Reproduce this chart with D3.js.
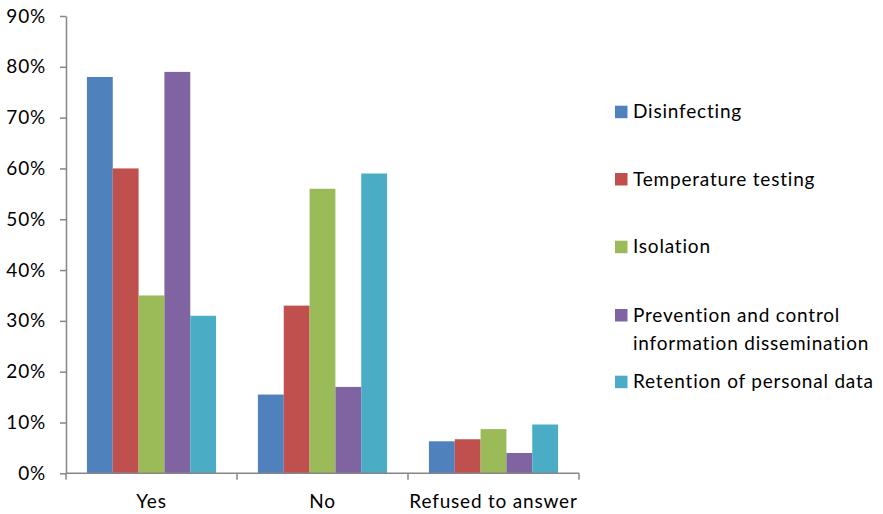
<!DOCTYPE html>
<html>
<head>
<meta charset="utf-8">
<script src="https://cdn.jsdelivr.net/npm/d3@7"></script>
<style>
  html, body { margin: 0; padding: 0; background: #fff; }
  svg { display: block; font-family: Lato, "Open Sans", sans-serif; }
  svg text { letter-spacing: 0.8px; }
</style>
</head>
<body>
<svg id="chart" width="883" height="514"></svg>
<script>
// Response categories along the x axis
const categories = ["Yes", "No", "Refused to answer"];

// Measures asked about (one bar per measure within each category)
const seriesNames = [
  "Disinfecting",
  "Temperature testing",
  "Isolation",
  "Prevention and control information dissemination",
  "Retention of personal data"
];

// Share of respondents (%) per measure, in category order
const disinfecting = [78, 15.5, 6.3];
const temperatureTesting = [60, 33, 6.7];
const isolation = [35, 56, 8.7];
const preventionInfo = [79, 17, 4];
const retentionData = [31, 59, 9.6];

const seriesValues = [disinfecting, temperatureTesting, isolation, preventionInfo, retentionData];

// Legend text, with the long label split over two lines
const legendLines = [
  ["Disinfecting"],
  ["Temperature testing"],
  ["Isolation"],
  ["Prevention and control", "information dissemination"],
  ["Retention of personal data"]
];

const yTicks = [0, 10, 20, 30, 40, 50, 60, 70, 80, 90];

const colors = ["#4F81BD", "#C0504D", "#9BBB59", "#8064A2", "#4BACC6"];

const svg = d3.select("#chart");
const axisColor = "#868686";
const fontSize = 19;

const plot = { left: 66, right: 579, top: 16, bottom: 473.3 };

const y = d3.scaleLinear().domain([0, 90]).range([plot.bottom, plot.top]);
const x0 = d3.scaleBand().domain(categories).range([plot.left, plot.right]).padding(0);
const x1 = d3.scaleBand().domain(d3.range(seriesNames.length))
  .range([0, x0.bandwidth()]).paddingInner(0).paddingOuter(0.81);

// Bars
const rows = [];
categories.forEach((c, ci) => {
  seriesValues.forEach((vals, si) => rows.push({ cat: c, s: si, v: vals[ci] }));
});

svg.append("g").selectAll("rect").data(rows).join("rect")
  .attr("x", d => x0(d.cat) + x1(d.s))
  .attr("y", d => y(d.v))
  .attr("width", x1.bandwidth())
  .attr("height", d => y(0) - y(d.v))
  .attr("fill", d => colors[d.s]);

// Y axis
const yAxis = d3.axisLeft(y).tickValues(yTicks).tickFormat(d => d + "%")
  .tickSizeInner(6).tickSizeOuter(0).tickPadding(14);
const gy = svg.append("g").attr("transform", `translate(${plot.left},0)`).call(yAxis);
gy.select(".domain").attr("stroke", axisColor).attr("stroke-width", 1.5);
gy.selectAll(".tick line").attr("stroke", axisColor).attr("stroke-width", 1.5);
gy.selectAll(".tick text").attr("fill", "#000").attr("font-size", fontSize)
  .attr("font-family", "Lato, 'Open Sans', sans-serif");

// X axis with category boundary ticks
svg.append("line")
  .attr("x1", plot.left).attr("x2", plot.right)
  .attr("y1", y(0)).attr("y2", y(0))
  .attr("stroke", axisColor).attr("stroke-width", 1.5);

const boundaries = categories.map(c => x0(c)).concat([x0(categories[categories.length - 1]) + x0.bandwidth()]);
svg.append("g").selectAll("line").data(boundaries).join("line")
  .attr("x1", d => d).attr("x2", d => d)
  .attr("y1", y(0)).attr("y2", y(0) + 6.5)
  .attr("stroke", axisColor).attr("stroke-width", 1.5);

svg.append("g").selectAll("text").data(categories).join("text")
  .attr("x", d => x0(d) + x0.bandwidth() / 2)
  .attr("y", 508)
  .attr("text-anchor", "middle")
  .attr("font-size", fontSize)
  .attr("fill", "#000")
  .text(d => d);

// Legend
const legendY = [111.7, 179, 246.7, 315, 381.7];
const legend = svg.append("g");
legendLines.forEach((lines, i) => {
  legend.append("rect")
    .attr("x", 615).attr("y", legendY[i] - 6)
    .attr("width", 12.5).attr("height", 12.5)
    .attr("fill", colors[i]);
  lines.forEach((t, li) => {
    legend.append("text")
      .attr("x", 633)
      .attr("y", legendY[i] + li * 28.3)
      .attr("dy", "0.35em")
      .attr("font-size", fontSize)
      .attr("fill", "#000")
      .text(t);
  });
});
</script>
</body>
</html>
